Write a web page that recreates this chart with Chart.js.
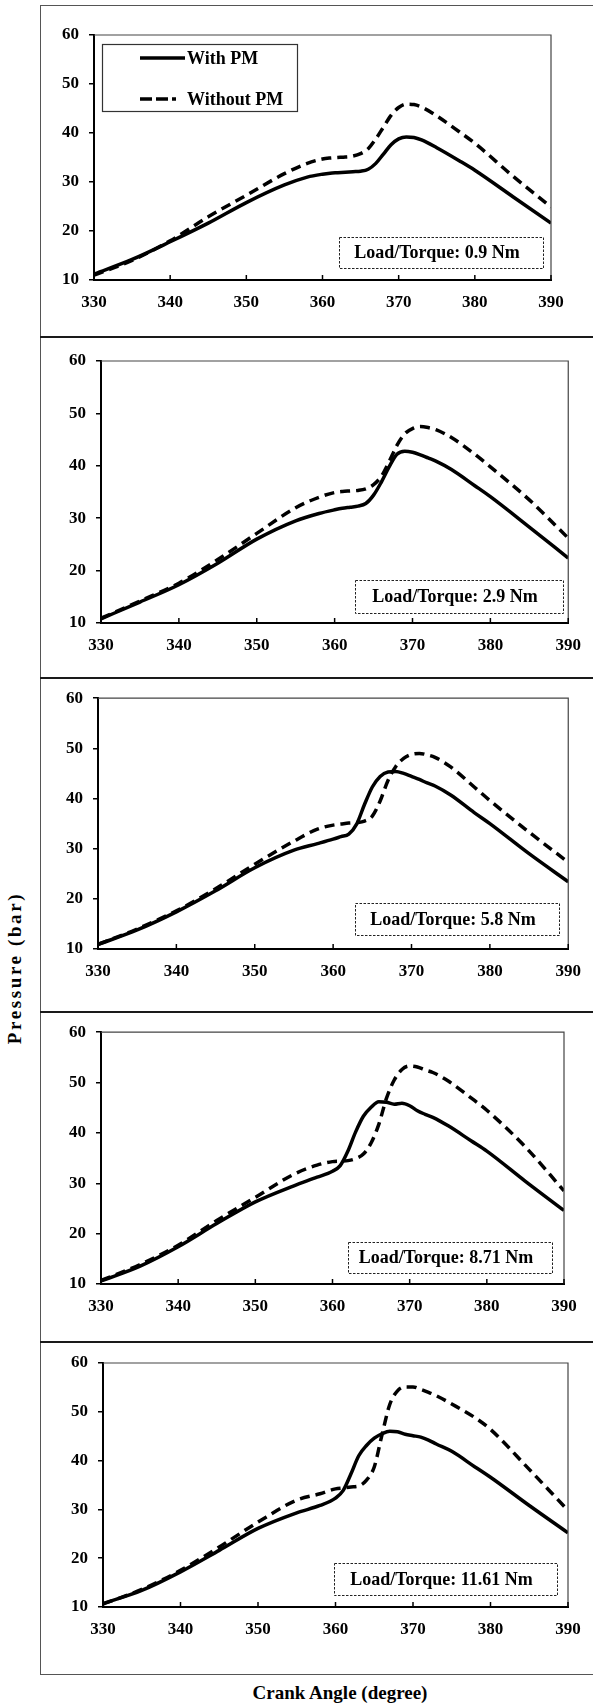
<!DOCTYPE html>
<html lang="en">
<head>
<meta charset="UTF-8">
<title>Pressure vs Crank Angle</title>
<script src="https://cdn.jsdelivr.net/npm/chart.js"></script>
<style>
  body { margin: 0; background: #fff; }
  #page { position: relative; width: 593px; height: 1707px; overflow: hidden;
          font-family: "Liberation Serif", "Times New Roman", serif; }
  canvas { position: absolute; left: 0; }
  .hline { position: absolute; left: 40px; width: 560px; height: 0; }
  .vline { position: absolute; left: 40px; width: 0; top: 5px; height: 1669px; border-left: 1.5px solid #555; }
  #ytitle { position: absolute; left: 15px; top: 968px; white-space: nowrap;
            transform: translate(-50%, -50%) rotate(-90deg);
            font-size: 19px; font-weight: bold; letter-spacing: 2.6px; color: #000; }
  #xtitle { position: absolute; left: 340px; top: 1693px; white-space: nowrap;
            transform: translate(-50%, -50%);
            font-size: 19px; font-weight: bold; color: #000; }
</style>
</head>
<body>
<div id="page">
  <div class="vline"></div>
  <div id="ytitle">Pressure (bar)</div>
  <div id="xtitle">Crank Angle (degree)</div>
</div>
<script>
  // data
  const crankAngle = [330, 335, 340, 345, 350, 355, 358, 360, 361, 362, 363, 364, 365,
                      366, 367, 368, 369, 370, 371, 372, 373, 375, 378, 380, 385, 390];

  const withPM_09    = [11.2, 14.2, 17.8, 21.6, 25.8, 29.4, 31.0, 31.6, 31.8, 31.9, 32.0, 32.1, 32.2,
                        32.6, 33.8, 35.7, 37.6, 38.8, 39.2, 39.1, 38.6, 37.0, 34.3, 32.4, 27.0, 21.6];
  const withoutPM_09 = [11.0, 14.0, 18.0, 22.9, 27.3, 31.7, 33.8, 34.7, 34.9, 35.0, 35.1, 35.3, 35.8,
                        36.8, 38.8, 41.2, 43.6, 45.2, 45.9, 45.8, 45.3, 43.5, 40.2, 37.9, 31.2, 24.9];

  const withPM_29    = [10.8, 14.0, 17.3, 21.4, 26.0, 29.5, 30.9, 31.6, 31.9, 32.1, 32.3, 32.8, 34.4,
                        36.9, 39.8, 42.2, 42.8, 42.6, 42.1, 41.5, 40.9, 39.3, 36.2, 34.1, 28.3, 22.4];
  const withoutPM_29 = [10.9, 14.2, 17.6, 22.1, 27.1, 32.0, 34.0, 34.9, 35.1, 35.2, 35.3, 35.6, 36.4,
                        38.0, 40.8, 43.9, 46.1, 47.1, 47.5, 47.3, 46.9, 45.4, 42.2, 39.8, 33.5, 26.2];

  const withPM_58    = [10.9, 13.8, 17.4, 21.6, 26.2, 29.7, 31.0, 31.9, 32.4, 32.9, 34.9, 38.8, 42.3,
                        44.4, 45.3, 45.4, 45.0, 44.4, 43.8, 43.1, 42.5, 40.7, 37.2, 35.0, 29.0, 23.4];
  const withoutPM_58 = [10.9, 14.0, 17.6, 22.0, 26.9, 31.5, 33.9, 34.7, 34.9, 35.1, 35.2, 35.5, 36.5,
                        39.5, 43.6, 46.4, 48.0, 48.8, 49.0, 48.7, 48.2, 46.3, 42.3, 39.6, 33.3, 27.3];

  const withPM_871    = [10.6, 13.5, 17.4, 22.0, 26.3, 29.5, 31.2, 32.4, 33.5, 36.4, 40.2, 43.3, 45.1,
                         46.2, 46.1, 45.7, 45.9, 45.4, 44.4, 43.7, 43.1, 41.4, 38.4, 36.4, 30.4, 24.6];
  const withoutPM_871 = [10.7, 13.8, 17.7, 22.6, 27.2, 31.8, 33.6, 34.3, 34.4, 34.5, 34.9, 35.8, 38.0,
                         41.7, 46.9, 50.5, 52.6, 53.3, 53.1, 52.5, 52.0, 50.3, 46.9, 44.5, 37.2, 28.5];

  const withPM_1161    = [10.7, 13.4, 17.2, 21.6, 26.1, 29.3, 30.8, 32.3, 33.9, 37.3, 41.0, 43.1, 44.6,
                          45.5, 46.0, 45.9, 45.4, 45.1, 44.8, 44.2, 43.4, 41.9, 38.7, 36.6, 30.8, 25.2];
  const withoutPM_1161 = [10.6, 13.6, 17.5, 22.3, 27.4, 31.9, 33.2, 34.2, 34.4, 34.6, 34.8, 36.0, 38.7,
                          45.3, 51.5, 54.3, 55.1, 55.1, 54.6, 54.0, 53.3, 51.6, 48.8, 46.4, 38.2, 29.8];

  const seriesLabels = ['With PM', 'Without PM'];
  const loadLabels = ['Load/Torque: 0.9 Nm', 'Load/Torque: 2.9 Nm', 'Load/Torque: 5.8 Nm',
                      'Load/Torque: 8.71 Nm', 'Load/Torque: 11.61 Nm'];
  const withSeries = [withPM_09, withPM_29, withPM_58, withPM_871, withPM_1161];
  const withoutSeries = [withoutPM_09, withoutPM_29, withoutPM_58, withoutPM_871, withoutPM_1161];

  // page layout (px): panel band, plot area [l, r, t, b], note box [l, r, t, b]
  const panels = [
    { top: 5,    bottom: 337,  plot: [94, 551, 35, 280],    note: [339, 543, 237, 268] },
    { top: 337,  bottom: 678,  plot: [101, 574, 361, 623],  note: [355, 563, 580, 613] },
    { top: 678,  bottom: 1012, plot: [98, 574, 696, 949],   note: [355, 559, 903, 935] },
    { top: 1012, bottom: 1342, plot: [101, 564, 1030, 1284], note: [348, 552, 1242, 1273] },
    { top: 1342, bottom: 1674, plot: [103, 568, 1363, 1607], note: [334, 557, 1563, 1595] }
  ];
  const legendBox = [102, 297, 44, 111];

  const FONT = '"Liberation Serif", "Times New Roman", serif';
  const page = document.getElementById('page');

  // frame lines
  [5, 1674].forEach(y => {
    const d = document.createElement('div');
    d.className = 'hline';
    d.style.top = y + 'px';
    d.style.borderTop = '1.5px solid #555';
    page.appendChild(d);
  });
  [337, 678, 1012, 1342].forEach(y => {
    const d = document.createElement('div');
    d.className = 'hline';
    d.style.top = (y - 1) + 'px';
    d.style.borderTop = '2.5px solid #1a1a1a';
    page.appendChild(d);
  });

  function extrasPlugin(p, idx) {
    return {
      id: 'extras' + idx,
      afterDraw(chart) {
        const ctx = chart.ctx;
        const a = chart.chartArea;
        const xs = chart.scales.x;
        ctx.save();
        // top and right edges of the plot box
        ctx.strokeStyle = '#444';
        ctx.lineWidth = 1.2;
        ctx.beginPath();
        ctx.moveTo(a.left, a.top);
        ctx.lineTo(a.right, a.top);
        ctx.lineTo(a.right, a.bottom);
        ctx.stroke();
        // inward tick marks on the x axis
        ctx.strokeStyle = '#000';
        ctx.lineWidth = 1.5;
        xs.ticks.forEach(t => {
          const px = xs.getPixelForValue(t.value);
          ctx.beginPath();
          ctx.moveTo(px, a.bottom);
          ctx.lineTo(px, a.bottom - 5);
          ctx.stroke();
        });
        // load note
        const n = p.note;
        const oy = p.top;
        ctx.setLineDash([2.5, 1.5]);
        ctx.strokeStyle = '#222';
        ctx.lineWidth = 1;
        ctx.strokeRect(n[0] + 0.5, n[2] - oy + 0.5, n[1] - n[0], n[3] - n[2]);
        ctx.setLineDash([]);
        ctx.fillStyle = '#000';
        ctx.font = 'bold 18px ' + FONT;
        ctx.textAlign = 'center';
        ctx.textBaseline = 'middle';
        ctx.fillText(loadLabels[idx], (n[0] + n[1]) / 2 - 4, (n[2] + n[3]) / 2 - oy + 1);
        // legend in the first panel
        if (idx === 0) {
          const b = legendBox;
          ctx.strokeStyle = '#333';
          ctx.lineWidth = 1.2;
          ctx.fillStyle = '#fff';
          ctx.fillRect(b[0], b[2] - oy, b[1] - b[0], b[3] - b[2]);
          ctx.strokeRect(b[0] + 0.5, b[2] - oy + 0.5, b[1] - b[0], b[3] - b[2]);
          const rows = [58, 99];
          ctx.strokeStyle = '#000';
          ctx.lineWidth = 3.5;
          ctx.lineCap = 'butt';
          rows.forEach((ry, i) => {
            ctx.setLineDash(i === 0 ? [] : [12, 4, 12, 4, 4, 40]);
            ctx.beginPath();
            ctx.moveTo(140, ry - oy);
            ctx.lineTo(185, ry - oy);
            ctx.stroke();
          });
          ctx.setLineDash([]);
          ctx.fillStyle = '#000';
          ctx.textAlign = 'left';
          rows.forEach((ry, i) => ctx.fillText(seriesLabels[i], 187, ry - oy + 1));
        }
        ctx.restore();
      }
    };
  }

  panels.forEach((p, idx) => {
    const canvas = document.createElement('canvas');
    const h = p.bottom - p.top;
    canvas.width = 593;
    canvas.height = h;
    canvas.style.top = p.top + 'px';
    canvas.style.width = '593px';
    canvas.style.height = h + 'px';
    page.appendChild(canvas);

    const [pl, pr, pt, pb] = p.plot;
    const toPoints = arr => crankAngle.map((x, i) => ({ x: x, y: arr[i] }));

    new Chart(canvas, {
      type: 'line',
      data: {
        datasets: [
          { label: seriesLabels[0], data: toPoints(withSeries[idx]),
            borderColor: '#000', borderWidth: 3.5, pointRadius: 0,
            cubicInterpolationMode: 'monotone', fill: false },
          { label: seriesLabels[1], data: toPoints(withoutSeries[idx]),
            borderColor: '#000', borderWidth: 3.5, borderDash: [10, 6], pointRadius: 0,
            cubicInterpolationMode: 'monotone', fill: false }
        ]
      },
      options: {
        responsive: false,
        animation: false,
        devicePixelRatio: 1,
        layout: { padding: { left: 0, top: pt - p.top, right: 593 - pr, bottom: 0 } },
        plugins: { legend: { display: false }, tooltip: { enabled: false } },
        scales: {
          x: {
            type: 'linear', min: 330, max: 390,
            afterFit: s => { s.height = p.bottom - pb; },
            ticks: { stepSize: 10, padding: 12, color: '#000',
                     font: { family: FONT, size: 17, weight: 'bold' } },
            grid: { drawOnChartArea: false, drawTicks: false },
            border: { color: '#000', width: 2 }
          },
          y: {
            min: 10, max: 60,
            afterFit: s => { s.width = pl; },
            ticks: { stepSize: 10, padding: 10, color: '#000',
                     font: { family: FONT, size: 17, weight: 'bold' } },
            grid: { drawOnChartArea: false, drawTicks: true, tickLength: 5,
                    color: '#000', lineWidth: 1.5 },
            border: { color: '#000', width: 2 }
          }
        }
      },
      plugins: [extrasPlugin(p, idx)]
    });
  });
</script>
</body>
</html>
